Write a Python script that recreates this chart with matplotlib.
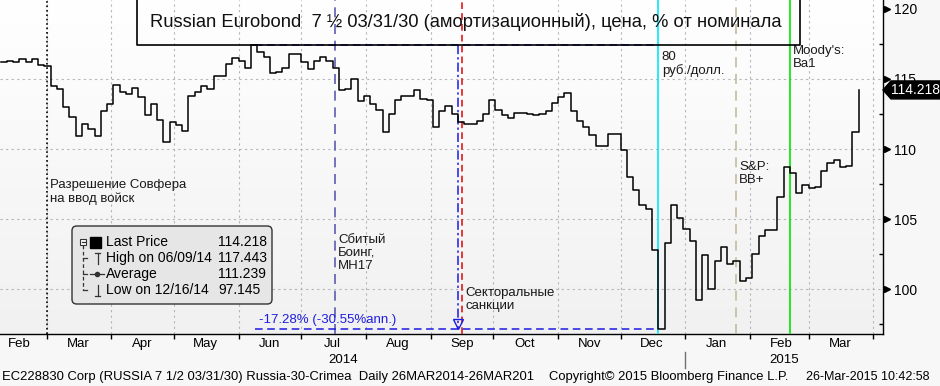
import numpy as np
import pandas as pd
import matplotlib
matplotlib.use("Agg")
import matplotlib.pyplot as plt
import matplotlib.dates as mdates
import matplotlib.transforms as mtransforms
from matplotlib.ticker import NullFormatter
from matplotlib.lines import Line2D
from matplotlib.patches import FancyBboxPatch, Polygon, Rectangle

plt.rcParams["font.family"] = ["Liberation Sans", "DejaVu Sans"]

W, H = 940, 386

# price, one value every 3 calendar days
dates = pd.date_range("2014-02-07", periods=138, freq="3D")
price = [
    116.2, 116.25, 116.2, 116.4, 116.2, 116.45, 116.0, 115.9,
    114.5, 114.3, 113.0, 112.3, 110.9, 111.8, 111.4, 110.9,
    112.7, 113.2, 114.6, 114.1, 113.9, 114.35, 113.7, 112.4,
    113.2, 112.1, 110.5, 111.9, 111.7, 111.3, 113.8, 114.1,
    114.5, 114.3, 115.2, 115.2, 116.1, 116.5, 116.3, 115.8,
    117.443, 116.9, 116.6, 115.4, 115.5, 115.8, 116.8, 116.8,
    116.2, 115.7, 116.3, 116.6, 116.3, 115.8, 114.2, 114.3,
    115.0, 113.4, 113.8, 113.2, 112.8, 111.2, 112.5, 113.5,
    113.8, 113.8, 114.2, 113.6, 113.5, 111.6, 112.7, 113.1,
    112.5, 111.95, 111.8, 111.8, 112.0, 112.5, 113.5, 112.8,
    112.4, 112.2, 112.6, 112.6, 112.5, 112.4, 112.5, 112.7,
    113.3, 113.7, 114.0, 112.7, 112.0, 111.6, 111.0, 110.2,
    110.2, 111.1, 111.1, 109.9, 108.0, 107.1, 106.0, 105.7,
    102.8, 97.145, 103.3, 106.0, 105.1, 104.3, 103.4, 99.2,
    102.4, 100.0, 102.0, 103.0, 101.8, 102.0, 100.6, 100.8,
    102.5, 103.8, 104.2, 104.2, 106.6, 108.7, 108.3, 106.85,
    107.4, 107.2, 107.3, 108.4, 109.0, 109.2, 108.7, 108.8,
    111.2, 114.218,
]

last_price = 114.218
high_price, high_date = 117.443, "2014-06-09"
low_price, low_date = 97.145, "2014-12-16"
average_price = 111.239

y_major = [100, 105, 110, 115, 120]
y_minor = [97.5, 102.5, 107.5, 112.5, 117.5]

# event lines: (date, colour, style)
events = [
    ("2014-03-01", "black", ":"),
    ("2014-07-17", "#5c5cb0", (0, (6, 4))),
    ("2014-09-16", "#e01818", (0, (4, 2.5))),
    ("2014-12-19", "#00e8ff", "-"),
    ("2015-01-25", "#c4bc9c", (0, (6, 4))),
    ("2015-02-20", "#00e600", "-"),
]
# event captions: (date, top value, text)
captions = [
    ("2014-03-01", 107.85, "Разрешение Совфера\nна ввод войск"),
    ("2014-07-17", 103.95, "Сбитый\nБоинг,\nMH17"),
    ("2014-09-16", 100.15, "Секторальные\nсанкции"),
    ("2014-12-19", 117.0, "80\nруб./долл."),
    ("2015-01-25", 109.15, "S&P:\nBB+"),
    ("2015-02-20", 117.45, "Moody's:\nBa1"),
]
measure_end = "2014-12-19"
measure_mark = "2014-09-14"

BLUE = "#1c1ce0"
TEXT = "#1a1a1a"


def fx(x):
    return x / W


def fy(y):
    return 1 - y / H


fig = plt.figure(figsize=(W / 100, H / 100), dpi=100, facecolor="#f7f7f7")
ax = fig.add_axes([0, 52 / H, 883 / W, 334 / H])

# soft white-to-grey background like the terminal
grad = np.linspace(1.0, 0.945, 256).reshape(-1, 1)
ax.imshow(np.dstack([grad, grad, grad]), extent=[0, 1, 0, 1], transform=ax.transAxes,
          aspect="auto", zorder=0, interpolation="bilinear")

mar1 = mdates.date2num(np.datetime64("2014-03-01"))
px_per_day = 2.088
x_left = mar1 - 46.5 / px_per_day
x_right = mar1 + (883 - 46.5) / px_per_day
ax.set_xlim(x_left, x_right)
ax.set_ylim(96.79, 120.64)

ax.step(dates, price, where="post", color="black", lw=1.1, zorder=5)

for d, c, ls in events:
    ax.axvline(pd.Timestamp(d), color=c, ls=ls, lw=1.2, zorder=4)

for d, v, s in captions:
    ax.annotate(s, xy=(pd.Timestamp(d), v), xytext=(2.5, 0), textcoords="offset points",
                ha="left", va="top", fontsize=9.5, color=TEXT, linespacing=1.1, zorder=6)

# measurement tool: high -> low
t_hi, t_end, t_mark = pd.Timestamp(high_date), pd.Timestamp(measure_end), pd.Timestamp(measure_mark)
ax.plot([t_hi, t_end], [high_price, high_price], color=BLUE, ls=(0, (5, 3)), lw=1.1, zorder=4)
ax.plot([t_hi, t_end], [low_price, low_price], color=BLUE, ls=(0, (5, 3)), lw=1.1, zorder=4)
ax.plot([t_mark, t_mark], [high_price, low_price], color=BLUE, ls=(0, (6, 2, 1.5, 2)), lw=1.1, zorder=4)
ax.plot([t_mark], [low_price + 0.35], marker="v", ms=7, mfc="none", mec=BLUE, mew=1, zorder=6)
days = (pd.Timestamp(low_date) - t_hi).days
chg = low_price / high_price - 1
ann = (1 + chg) ** (365 / days) - 1
ax.annotate(f"{chg * 100:.2f}% ({ann * 100:.2f}%ann.)", xy=(t_hi, low_price), xytext=(2.5, 2),
            textcoords="offset points", ha="left", va="bottom", fontsize=9.5, color=BLUE, zorder=6)

# axes styling
for side in ("left", "top"):
    ax.spines[side].set_visible(False)
for side in ("bottom", "right"):
    ax.spines[side].set_color("black")
    ax.spines[side].set_linewidth(1)

ax.xaxis.set_major_locator(mdates.MonthLocator())
ax.xaxis.set_major_formatter(NullFormatter())
ax.xaxis.set_minor_locator(mdates.MonthLocator(bymonthday=16))
ax.xaxis.set_minor_formatter(mdates.DateFormatter("%b"))
ax.tick_params(axis="x", which="major", direction="out", length=3.5, width=1, color="black")
ax.tick_params(axis="x", which="minor", length=0, pad=3, labelsize=9.5)

ax.yaxis.tick_right()
ax.set_yticks(y_major)
ax.set_yticks(y_minor, minor=True)
ax.tick_params(axis="y", which="major", length=0, pad=8, labelsize=10)
ax.tick_params(axis="y", which="minor", direction="in", length=3, width=1, color="black")
blend = mtransforms.blended_transform_factory(ax.transAxes, ax.transData)
ax.plot([1.005] * len(y_major), y_major, ">", ms=5, color="black", transform=blend, clip_on=False)

grid_style = dict(color="#b4b4bc", ls=(0, (2, 3)), lw=0.8)
ax.grid(True, axis="x", which="major", **grid_style)
ax.grid(True, axis="y", which="major", **grid_style)
ax.yaxis.get_gridlines()[-1].set_visible(False)
ax.set_axisbelow(True)

# year labels centred under each year's visible span, with a separator at the new year
jan1 = mdates.date2num(np.datetime64("2015-01-01"))
xblend = mtransforms.blended_transform_factory(ax.transData, ax.transAxes)
ax.text((x_left + jan1) / 2, -0.078, "2014", transform=xblend, ha="center", va="center", fontsize=9.5)
ax.text((jan1 + x_right) / 2, -0.078, "2015", transform=xblend, ha="center", va="center", fontsize=9.5)
ax.plot([jan1, jan1], [-0.054, -0.102], color="#707070", lw=1, transform=xblend, clip_on=False)

# title box
fig.add_artist(Line2D([fx(137), fx(137), fx(800), fx(800)], [fy(-5), fy(45), fy(45), fy(-5)],
                      transform=fig.transFigure, color="black", lw=1.2))
fig.text(fx(150), fy(22), "Russian Eurobond  7 ½ 03/31/30 (амортизационный), цена, % от номинала",
         fontsize=13.2, va="center", ha="left", color="#101010")

# last price tag
fig.canvas.draw()
y_tag = ax.transData.transform((x_left, last_price))[1] / fig.bbox.height
h_tag = 9 / H
fig.add_artist(Polygon([(fx(883), y_tag), (fx(891), y_tag + h_tag), (fx(940), y_tag + h_tag),
                        (fx(940), y_tag - h_tag), (fx(891), y_tag - h_tag)],
                       closed=True, transform=fig.transFigure, fc="black", ec="black", zorder=10))
fig.text(fx(915), y_tag, f"{last_price:.3f}", color="white", fontsize=10, ha="center", va="center", zorder=11)

# legend box
fig.add_artist(FancyBboxPatch((fx(72), fy(304)), fx(272) - fx(72), fy(226) - fy(304),
                              boxstyle="round,pad=0,rounding_size=0.005", mutation_aspect=W / H,
                              transform=fig.transFigure, fc="#e6e6e6", ec="#333333", lw=1))
rows = [242, 258, 274, 290]
labels = ["Last Price", f"High on {pd.Timestamp(high_date):%m/%d/%y}", "Average",
          f"Low on {pd.Timestamp(low_date):%m/%d/%y}"]
values = [last_price, high_price, average_price, low_price]
for y, lab, val in zip(rows, labels, values):
    fig.text(fx(106), fy(y), lab, fontsize=10, va="center", ha="left")
    fig.text(fx(218), fy(y), f"{val:.3f}", fontsize=10, va="center", ha="left")

tree = dict(transform=fig.transFigure, color="#333333", lw=0.9)
fig.add_artist(Rectangle((fx(80), fy(245)), fx(6), 6 / H, transform=fig.transFigure,
                         fc="white", ec="#333333", lw=0.8))
fig.add_artist(Line2D([fx(81.5), fx(84.5)], [fy(242), fy(242)], **tree))
fig.add_artist(Line2D([fx(83), fx(83)], [fy(245), fy(290)], ls=(0, (3, 2)), **tree))
for y in rows[1:]:
    fig.add_artist(Line2D([fx(83), fx(87)], [fy(y), fy(y)], **tree))
fig.add_artist(Rectangle((fx(90), fy(248)), fx(11), 11 / H, transform=fig.transFigure,
                         fc="black", ec="black"))
# high / average / low glyphs
fig.add_artist(Line2D([fx(97.5), fx(97.5)], [fy(253), fy(264)], **tree))
fig.add_artist(Line2D([fx(95), fx(100)], [fy(253), fy(253)], **tree))
fig.add_artist(Line2D([fx(90), fx(104)], [fy(274), fy(274)], **tree))
fig.add_artist(Line2D([fx(97)], [fy(274)], marker="o", ms=3, **tree))
fig.add_artist(Line2D([fx(97.5), fx(97.5)], [fy(285), fy(296)], **tree))
fig.add_artist(Line2D([fx(95), fx(100)], [fy(296), fy(296)], **tree))

# footer
fig.text(fx(2), fy(377), "EC228830 Corp (RUSSIA 7 1/2 03/31/30) Russia-30-Crimea  Daily 26MAR2014-26MAR201",
         fontsize=9.35, va="center", ha="left")
fig.text(fx(549), fy(377), "Copyright© 2015 Bloomberg Finance L.P.", fontsize=9.35, va="center", ha="left")
fig.text(fx(806), fy(377), "26-Mar-2015 10:42:58", fontsize=9, va="center", ha="left")

fig.savefig("out.png", dpi=100, facecolor=fig.get_facecolor())
